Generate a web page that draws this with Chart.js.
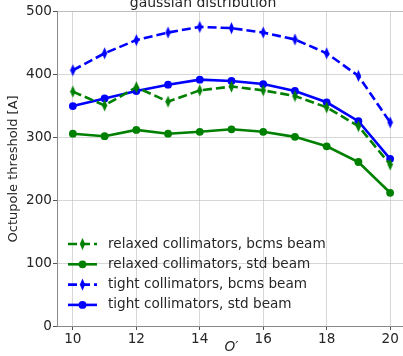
<!DOCTYPE html>
<html>
<head>
<meta charset="utf-8">
<script src="https://cdn.jsdelivr.net/npm/chart.js@4.4.1/dist/chart.umd.min.js"></script>
<style>
  html, body { margin: 0; padding: 0; background: #fff; }
  #wrap { position: relative; width: 403px; height: 356px; overflow: hidden; }
  #c { position: absolute; left: 0; top: -14px; }
</style>
</head>
<body>
<div id="wrap"><canvas id="c" width="420" height="370"></canvas></div>
<script>
const octupoleStrength = [10, 11, 12, 13, 14, 15, 16, 17, 18, 19, 20];
const relaxedBcms = [373, 351, 380, 357, 375, 381, 375, 366, 348, 318, 257];
const relaxedStd  = [306, 302, 312, 306, 309, 313, 309, 301, 286, 261, 212];
const tightBcms   = [407, 434, 455, 467, 476, 474, 467, 456, 434, 398, 324];
const tightStd    = [350, 362, 374, 384, 392, 390, 385, 374, 356, 326, 266];
const xTickValues = [10, 12, 14, 16, 18, 20];
const yTickValues = [0, 100, 200, 300, 400, 500];
const seriesLabels = [
  'relaxed collimators, bcms beam',
  'relaxed collimators, std beam',
  'tight collimators, bcms beam',
  'tight collimators, std beam'
];

const GREEN = '#008000', BLUE = '#0000ff';
const FONT = '"DejaVu Sans", sans-serif';
const TEXT = '#262626';
const FS = 13.6;

function thinDiamond(color) {
  const w = 7, h = 13;
  const cv = document.createElement('canvas');
  cv.width = w; cv.height = h;
  const g = cv.getContext('2d');
  g.fillStyle = color;
  g.beginPath();
  g.moveTo(w / 2, 0.5);
  g.lineTo(w - 0.8, h / 2);
  g.lineTo(w / 2, h - 0.5);
  g.lineTo(0.8, h / 2);
  g.closePath();
  g.fill();
  return cv;
}
const diamondG = thinDiamond(GREEN), diamondB = thinDiamond(BLUE);

function pts(arr) { return octupoleStrength.map((x, i) => ({ x: x, y: arr[i] })); }

function ds(label, arr, color, dashed) {
  return {
    label: label,
    data: pts(arr),
    borderColor: color,
    backgroundColor: color,
    borderWidth: 2.6,
    borderDash: dashed ? [9, 4] : [],
    pointStyle: dashed ? (color === GREEN ? diamondG : diamondB) : 'circle',
    pointRadius: dashed ? 5 : 3.9,
    pointBorderWidth: 0,
    pointHoverRadius: 4,
    tension: 0,
    clip: false
  };
}

const legendPlugin = {
  id: 'innerLegend',
  afterDraw(chart) {
    const ctx = chart.ctx;
    const rowH = 20.3;
    ctx.save();
    chart.data.datasets.forEach((d, i) => {
      const cy = 258 + i * rowH;
      const x0 = 68, x1 = 97, xm = 82.5;
      ctx.beginPath();
      ctx.setLineDash(d.borderDash || []);
      ctx.strokeStyle = d.borderColor;
      ctx.lineWidth = d.borderWidth;
      ctx.moveTo(x0, cy); ctx.lineTo(x1, cy);
      ctx.stroke();
      ctx.setLineDash([]);
      if (d.pointStyle === 'circle') {
        ctx.beginPath();
        ctx.arc(xm, cy, d.pointRadius, 0, Math.PI * 2);
        ctx.fillStyle = d.backgroundColor;
        ctx.fill();
      } else {
        ctx.drawImage(d.pointStyle, xm - d.pointStyle.width / 2, cy - d.pointStyle.height / 2);
      }
      ctx.fillStyle = TEXT;
      ctx.font = FS + 'px ' + FONT;
      ctx.textBaseline = 'middle';
      ctx.textAlign = 'left';
      ctx.fillText(d.label, 108, cy);
    });
    ctx.restore();
  }
};

new Chart(document.getElementById('c'), {
  type: 'line',
  data: {
    datasets: [
      ds(seriesLabels[0], relaxedBcms, GREEN, true),
      ds(seriesLabels[1], relaxedStd, GREEN, false),
      ds(seriesLabels[2], tightBcms, BLUE, true),
      ds(seriesLabels[3], tightStd, BLUE, false)
    ]
  },
  options: {
    responsive: false,
    animation: false,
    devicePixelRatio: 1,
    layout: { padding: { top: 1, right: 14, left: 0, bottom: 0 } },
    plugins: {
      legend: { display: false },
      tooltip: { enabled: false },
      title: {
        display: true,
        text: 'gaussian distribution',
        color: TEXT,
        font: { family: FONT, size: 14, weight: 'normal' },
        padding: { top: 8, bottom: 0 }
      }
    },
    scales: {
      x: {
        type: 'linear',
        position: 'bottom',
        min: 9.5,
        max: 20.5,
        afterBuildTicks(s) { s.ticks = xTickValues.map(v => ({ value: v })); },
        afterFit(s) { s.height = 30; },
        ticks: { color: TEXT, font: { family: FONT, size: FS }, padding: 1, maxRotation: 0, autoSkip: false },
        grid: { color: 'rgba(176,176,176,0.5)', lineWidth: 1, tickLength: 4, tickColor: '#555' },
        border: { color: '#8a8a8a', width: 1 },
        title: {
          display: true,
          text: 'O\u2032',
          color: TEXT,
          font: { family: FONT, size: FS, style: 'italic' },
          padding: { top: 0, bottom: 0 }
        }
      },
      xTop: {
        type: 'linear',
        position: 'top',
        min: 9.5,
        max: 20.5,
        ticks: { display: false },
        grid: { drawOnChartArea: false, drawTicks: false },
        border: { color: '#bdbdbd', width: 1 }
      },
      y: {
        type: 'linear',
        min: 0,
        max: 500,
        afterBuildTicks(s) { s.ticks = yTickValues.map(v => ({ value: v })); },
        afterFit(s) { s.width = 57; },
        ticks: { color: TEXT, font: { family: FONT, size: FS }, padding: 1 },
        grid: { color: 'rgba(176,176,176,0.5)', lineWidth: 1, tickLength: 4, tickColor: '#555' },
        border: { color: '#8a8a8a', width: 1 },
        title: {
          display: true,
          text: 'Octupole threshold [A]',
          color: TEXT,
          font: { family: FONT, size: 13 },
          padding: { top: 6, bottom: 0 }
        }
      }
    }
  },
  plugins: [legendPlugin]
});
</script>
</body>
</html>
